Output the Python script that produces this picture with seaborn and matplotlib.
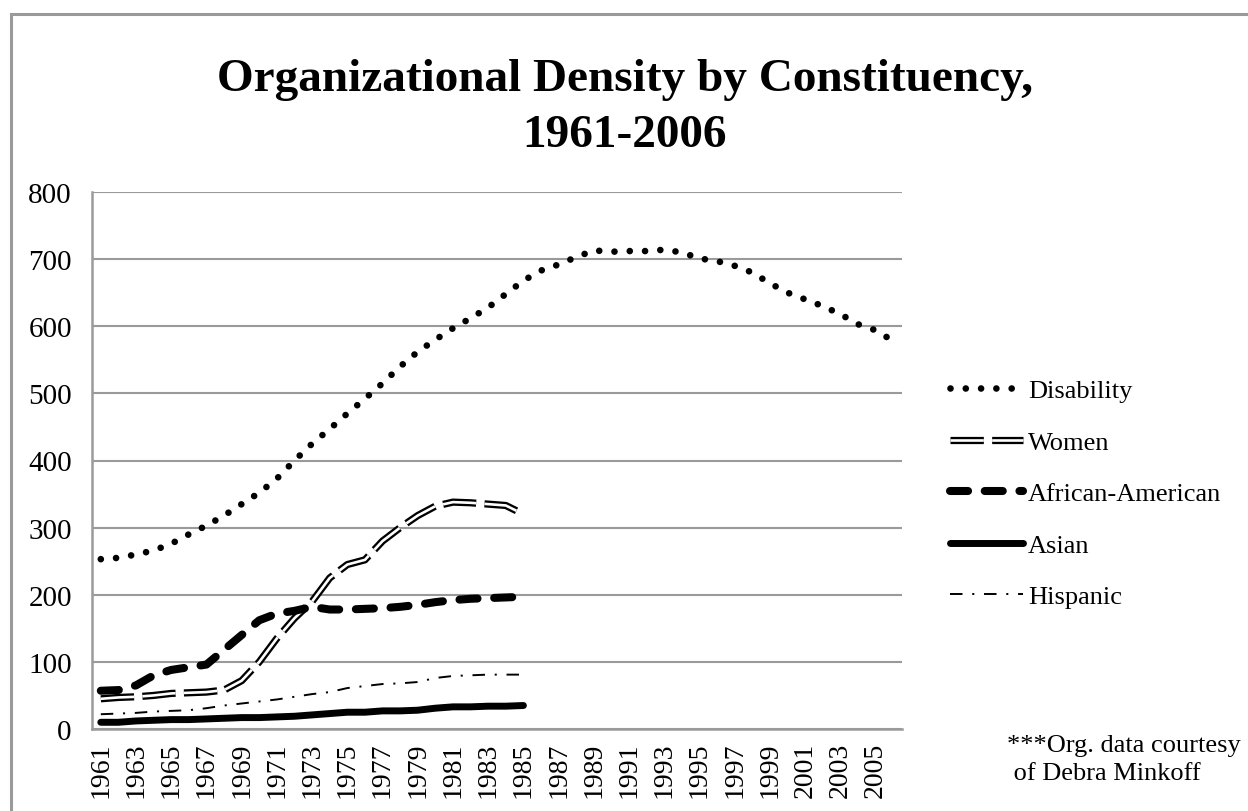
#%%
# organizational density by constituency, 1961-2006
import numpy as np
import pandas as pd
import matplotlib
matplotlib.use('Agg')
import matplotlib.pyplot as plt
from matplotlib.legend_handler import HandlerTuple
from matplotlib.patches import Rectangle
import seaborn as sns

#%%
# data
years = list(range(1961, 2007))
years_short = list(range(1961, 1986))

disability = [253, 255, 260, 266, 276, 290, 303, 318, 335, 352,
              373, 400, 425, 447, 470, 492, 515, 540, 562, 580,
              597, 612, 628, 648, 668, 683, 692, 703, 713, 711,
              712, 712, 714, 710, 701, 697, 690, 680, 664, 650,
              640, 630, 618, 603, 594, 578]
women = [45, 47, 48, 50, 53, 54, 55, 58, 72, 100,
         135, 165, 190, 225, 245, 252, 280, 300, 318, 332,
         338, 337, 335, 333, 320]
african_american = [57, 58, 65, 80, 88, 92, 96, 118, 140, 162,
                    172, 176, 182, 178, 178, 179, 180, 182, 185, 189,
                    192, 194, 195, 196, 197]
asian = [10, 10, 12, 13, 14, 14, 15, 16, 17, 17,
         18, 19, 21, 23, 25, 25, 27, 27, 28, 31,
         33, 33, 34, 34, 35]
hispanic = [22, 23, 24, 26, 27, 28, 31, 35, 38, 41,
            44, 48, 52, 55, 61, 64, 67, 68, 70, 76,
            79, 80, 81, 81, 81]

df_long = pd.DataFrame({'year': years, 'Disability': disability})
df_short = pd.DataFrame({'year': years_short, 'Women': women,
                         'African-American': african_american,
                         'Asian': asian, 'Hispanic': hispanic})

#%%
sns.set_style('white')
plt.rcParams['font.family'] = ['Liberation Serif', 'DejaVu Serif']
plt.rcParams['lines.scale_dashes'] = False
plt.rcParams['text.color'] = 'black'
plt.rcParams['xtick.color'] = 'black'
plt.rcParams['ytick.color'] = 'black'

grey = '#9a9a9a'
fig = plt.figure(figsize=(12.48, 8.12), dpi=100)
ax = fig.add_axes([92/1248, 1-730/812, (902-92)/1248, (730-193)/812])

# border of the chart area
fig.patches.append(Rectangle((11/1248, -0.05), 1.1, 1-15/812+0.05, transform=fig.transFigure,
                             fill=False, edgecolor=grey, linewidth=2.2))

sns.lineplot(data=df_long, x='year', y='Disability', ax=ax, color='black', lw=4.8,
             linestyle=(0, (0.01, 11.0)), dash_capstyle='round', label='_d')
sns.lineplot(data=df_short, x='year', y='Women', ax=ax, color='black', lw=5.2,
             linestyle=(0, (24, 6)), dash_capstyle='butt', label='_w1')
sns.lineplot(data=df_short, x='year', y='Women', ax=ax, color='white', lw=1.9,
             linestyle=(0, (24, 6)), dash_capstyle='butt', label='_w2')
sns.lineplot(data=df_short, x='year', y='African-American', ax=ax, color='black', lw=5.8,
             linestyle=(0, (13, 12)), dash_capstyle='round', label='_a')
sns.lineplot(data=df_short, x='year', y='Asian', ax=ax, color='black', lw=5.0,
             solid_capstyle='round', label='_s')
sns.lineplot(data=df_short, x='year', y='Hispanic', ax=ax, color='black', lw=1.4,
             linestyle=(0, (9, 7, 1.5, 7)), label='_h')

ax.set_xlim(1960.5, 2006.5)
ax.set_ylim(0, 800)
ax.set_xlabel('')
ax.set_ylabel('')

ax.set_yticks(range(0, 801, 100))
ax.set_xticks(years[::2])
ax.set_xticklabels([str(y) for y in years[::2]], rotation=90)
ax.set_xticks(np.arange(1960.5, 2007, 1), minor=True)
ax.tick_params(axis='x', which='major', length=0, pad=9, labelsize=20, colors='black')
ax.tick_params(axis='x', which='minor', length=5.5, width=1.5, color=grey, direction='out')
ax.tick_params(axis='y', length=5.5, width=1.5, color=grey, direction='out', labelsize=21,
               pad=9, labelcolor='black')
ax.yaxis.grid(True, color=grey, linewidth=1.5)
ax.xaxis.grid(False)
for side in ['top', 'right']:
    ax.spines[side].set_visible(False)
for side in ['left', 'bottom']:
    ax.spines[side].set_color(grey)
    ax.spines[side].set_linewidth(1.8)

# legend
lines = ax.get_lines()
handles = [lines[0], (lines[1], lines[2]), lines[3], lines[4], lines[5]]
labels = ['Disability', 'Women', 'African-American', 'Asian', 'Hispanic']
fig.legend(handles, labels, loc='upper left', bbox_to_anchor=(950/1248, 1-380/812),
           frameon=False, fontsize=19, handlelength=2.75, handletextpad=0.2,
           labelspacing=1.06, borderpad=0, borderaxespad=0,
           handler_map={tuple: HandlerTuple(ndivide=1)})

fig.text(625/1248, 1-108/812, 'Organizational Density by Constituency,\n1961-2006',
         ha='center', va='center', fontsize=34, fontweight='bold', linespacing=1.45)
fig.text(1007/1248, 1-735/812, '***Org. data courtesy\n of Debra Minkoff',
         ha='left', va='top', fontsize=19, linespacing=1.35)

fig.savefig('out.png', dpi=100)
